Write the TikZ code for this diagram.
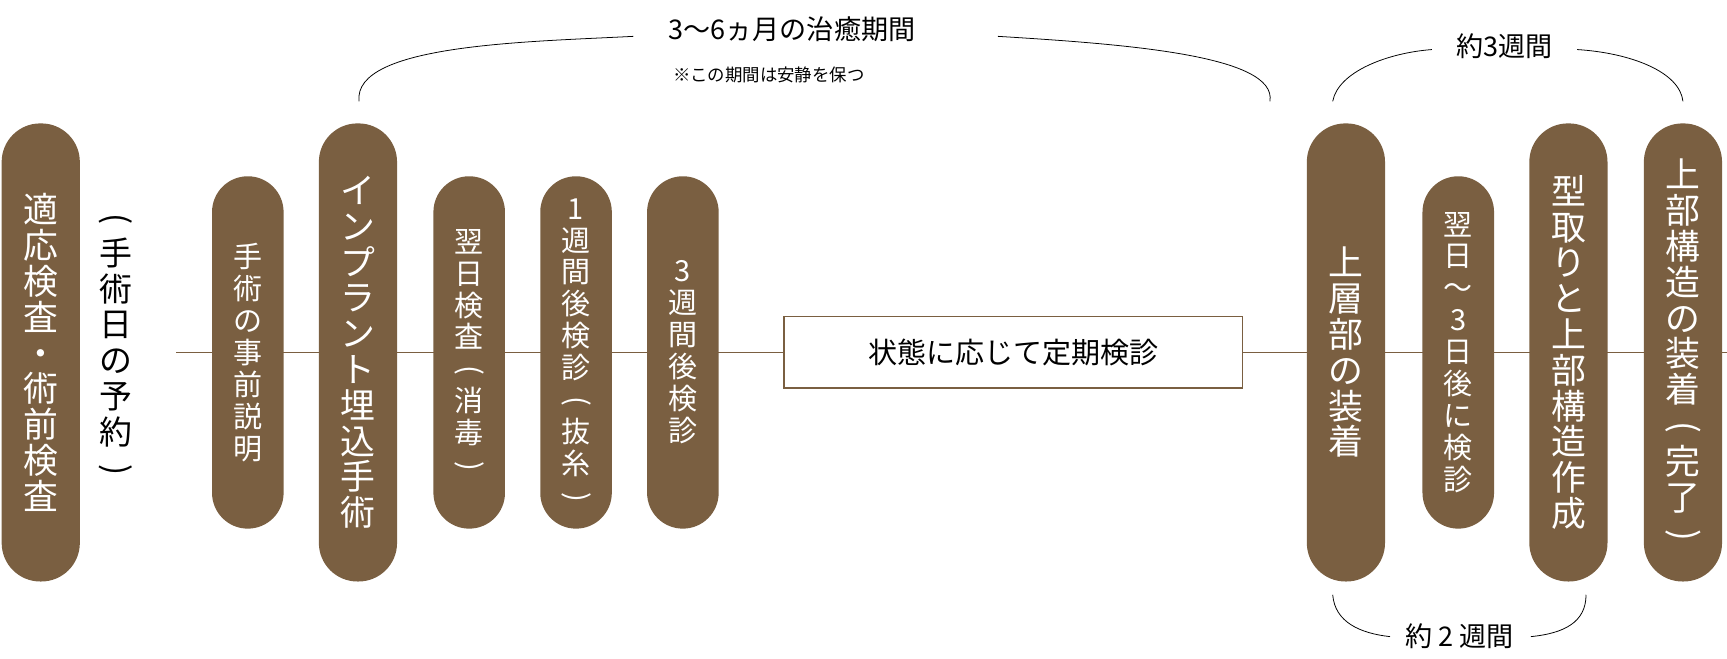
\documentclass[tikz,border=0pt]{standalone}
\usepackage{fontspec}
\usepackage{graphicx}
\setmainfont{Noto Sans CJK JP}
\usetikzlibrary{positioning,backgrounds}
\definecolor{pillbrown}{HTML}{7A5F41}
\newcommand\lpar{\rotatebox[origin=c]{-90}{(}}
\newcommand\rpar{\rotatebox[origin=c]{-90}{)}}
\tikzset{
  pill/.style={fill=pillbrown, text=white, rounded corners=0.65cm, inner sep=0pt, align=center,
    minimum width=1.3cm, minimum height=6.4cm, font=\fontsize{15}{16.5}\selectfont},
  bigpill/.style={pill, minimum height=8.32cm, minimum width=1.42cm, rounded corners=0.7cm,
    font=\fontsize{18}{18.5}\selectfont},
  brace/.style={thin, black}
}
\begin{document}
\begin{tikzpicture}[x=0.02cm,y=-0.02cm]
    % steps
    \node[bigpill] (check) at (37,320) {適\\応\\検\\査\\・\\術\\前\\検\\査};
    \node[align=center, font=\fontsize{17}{18.5}\selectfont] (book) at (105,315) {\lpar\\手\\術\\日\\の\\予\\約\\\rpar};
    \node[pill] (expl) at (225,320) {手\\術\\の\\事\\前\\説\\明};
    \node[bigpill] (op) at (325,320) {イ\\ン\\プ\\ラ\\ン\\ト\\埋\\込\\手\\術};
    \node[pill] (next) at (426,320) {翌\\日\\検\\査\\\lpar\\消\\毒\\\rpar};
    \node[pill] (week1) at (523,320) {1\\週\\間\\後\\検\\診\\\lpar\\抜\\糸\\\rpar};
    \node[pill] (week3) at (620,320) {3\\週\\間\\後\\検\\診};
    \node[draw=pillbrown, thick, minimum width=8.32cm, minimum height=1.3cm,
      font=\fontsize{15}{15}\selectfont] (regular) at (920,320) {状態に応じて定期検診};
    \node[bigpill] (fit) at (1222,320) {上\\層\\部\\の\\装\\着};
    \node[pill] (days) at (1324,320) {翌\\日\\～\\3\\日\\後\\に\\検\\診};
    \node[bigpill] (mold) at (1424,320) {型\\取\\り\\と\\上\\部\\構\\造\\作\\成};
    \node[bigpill] (done) at (1528,320) {上\\部\\構\\造\\の\\装\\着\\\lpar\\完\\了\\\rpar};
    \coordinate (lstart) at (160,320);
    \coordinate (lend) at (1568,320);
    \begin{scope}[on background layer]
        \draw[pillbrown, thick] (lstart) -- (regular) -- (lend);
    \end{scope}
    % periods
    \node[font=\fontsize{14}{14}\selectfont] (heal) at (719,27) {3〜6ヵ月の治癒期間};
    \node[font=\fontsize{9}{9}\selectfont] (rest) at (698,68) {※この期間は安静を保つ};
    \draw[brace] (326,92) .. controls (320,40) and (480,38) .. (575,33);
    \draw[brace] (906,33) .. controls (1020,40) and (1160,50) .. (1153,92);
    \node[font=\fontsize{14}{14}\selectfont] (w3) at (1366,42) {約3週間};
    \draw[brace] (1210,92) .. controls (1215,65) and (1260,48) .. (1300,45);
    \draw[brace] (1432,45) .. controls (1480,48) and (1525,65) .. (1528,92);
    \node[font=\fontsize{14}{14}\selectfont] (w2) at (1325,578) {約 2 週間};
    \draw[brace] (1210,540) .. controls (1212,565) and (1235,575) .. (1262,578);
    \draw[brace] (1390,578) .. controls (1420,575) and (1440,565) .. (1440,540);
    \pgfresetboundingbox
    \useasboundingbox (0,0) rectangle (1568,598);
\end{tikzpicture}
\end{document}
